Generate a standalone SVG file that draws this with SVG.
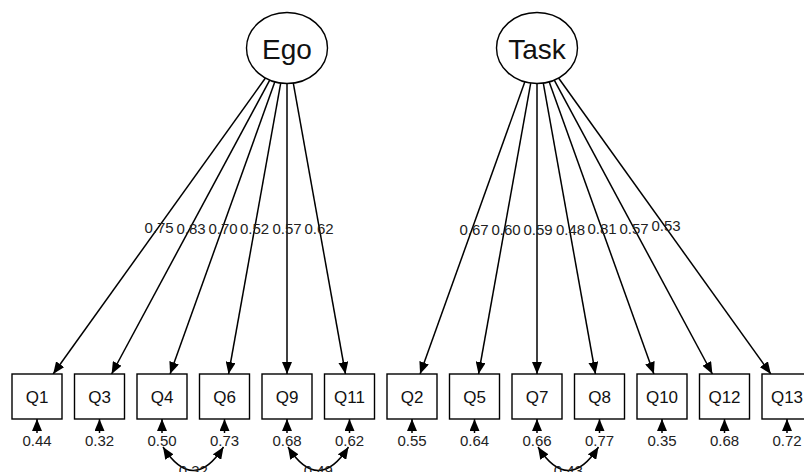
<svg xmlns="http://www.w3.org/2000/svg" width="804" height="472" viewBox="0 0 804 472">
  <style>
    .latent { fill: #fff; stroke: #000; stroke-width: 1.4; }
    .manifest { fill: #fff; stroke: #000; stroke-width: 1.4; }
    .edge { fill: none; stroke: #000; stroke-width: 1.5; marker-end: url(#arrow); }
    .cov { fill: none; stroke: #000; stroke-width: 1.5; marker-start: url(#arrowRev); marker-end: url(#arrow); }
    .lat-text { font-family: "Liberation Sans", Arial, sans-serif; font-size: 28px; fill: #111; text-anchor: middle; }
    .man-text { font-family: "Liberation Sans", Arial, sans-serif; font-size: 17px; fill: #111; text-anchor: middle; }
    .lbl { font-family: "Liberation Sans", Arial, sans-serif; font-size: 15px; fill: #222; text-anchor: middle; }
  </style>
  <defs>
    <marker id="arrow" markerUnits="userSpaceOnUse" markerWidth="12" markerHeight="10" refX="12" refY="5" orient="auto">
      <path d="M0,0 L12,5 L0,10 z" fill="#000"/>
    </marker>
    <marker id="arrowRev" markerUnits="userSpaceOnUse" markerWidth="12" markerHeight="10" refX="12" refY="5" orient="auto-start-reverse">
      <path d="M0,0 L12,5 L0,10 z" fill="#000"/>
    </marker>
  </defs>
  <rect width="804" height="472" fill="#fff"/>

  <g id="connectors">
    <!-- loadings: Ego -->
    <line class="edge" x1="265.44" y1="78.05" x2="53.15" y2="374"/>
    <line class="edge" x1="269.73" y1="80.11" x2="111.61" y2="374"/>
    <line class="edge" x1="274.85" y1="81.87" x2="170.07" y2="374"/>
    <line class="edge" x1="280.71" y1="83.07" x2="228.54" y2="374"/>
    <line class="edge" x1="287" y1="83.5" x2="287" y2="374"/>
    <line class="edge" x1="293.29" y1="83.07" x2="345.46" y2="374"/>
    <!-- loadings: Task -->
    <line class="edge" x1="524.85" y1="81.87" x2="420.07" y2="374"/>
    <line class="edge" x1="530.71" y1="83.07" x2="478.54" y2="374"/>
    <line class="edge" x1="537" y1="83.5" x2="537" y2="374"/>
    <line class="edge" x1="543.29" y1="83.07" x2="595.46" y2="374"/>
    <line class="edge" x1="549.15" y1="81.87" x2="653.93" y2="374"/>
    <line class="edge" x1="554.27" y1="80.11" x2="712.39" y2="374"/>
    <line class="edge" x1="558.56" y1="78.05" x2="770.85" y2="374"/>

    <!-- residual variances -->
    <line class="edge" x1="37" y1="433" x2="37" y2="419"/>
    <line class="edge" x1="99.5" y1="433" x2="99.5" y2="419"/>
    <line class="edge" x1="162" y1="433" x2="162" y2="419"/>
    <line class="edge" x1="224.5" y1="433" x2="224.5" y2="419"/>
    <line class="edge" x1="287" y1="433" x2="287" y2="419"/>
    <line class="edge" x1="349.5" y1="433" x2="349.5" y2="419"/>
    <line class="edge" x1="412" y1="433" x2="412" y2="419"/>
    <line class="edge" x1="474.5" y1="433" x2="474.5" y2="419"/>
    <line class="edge" x1="537" y1="433" x2="537" y2="419"/>
    <line class="edge" x1="599.5" y1="433" x2="599.5" y2="419"/>
    <line class="edge" x1="662" y1="433" x2="662" y2="419"/>
    <line class="edge" x1="724.5" y1="433" x2="724.5" y2="419"/>
    <line class="edge" x1="787" y1="433" x2="787" y2="419"/>

    <!-- residual covariances -->
    <path class="cov" d="M163,447 Q193.25,494 223.5,447"/>
    <path class="cov" d="M288,447 Q318.25,494 348.5,447"/>
    <path class="cov" d="M538,447 Q568.25,494 598.5,447"/>

    <!-- loading labels -->
    <text class="lbl" x="159" y="233">0.75</text>
    <text class="lbl" x="191" y="234">0.83</text>
    <text class="lbl" x="223" y="234">0.70</text>
    <text class="lbl" x="254.5" y="234">0.52</text>
    <text class="lbl" x="287" y="234">0.57</text>
    <text class="lbl" x="319" y="234">0.62</text>
    <text class="lbl" x="474" y="235">0.67</text>
    <text class="lbl" x="506" y="235">0.60</text>
    <text class="lbl" x="538" y="235">0.59</text>
    <text class="lbl" x="570.5" y="235">0.48</text>
    <text class="lbl" x="602" y="234">0.81</text>
    <text class="lbl" x="634" y="234">0.57</text>
    <text class="lbl" x="666" y="231">0.53</text>

    <!-- residual labels -->
    <text class="lbl" x="37" y="446">0.44</text>
    <text class="lbl" x="99.5" y="446">0.32</text>
    <text class="lbl" x="162" y="446">0.50</text>
    <text class="lbl" x="224.5" y="446">0.73</text>
    <text class="lbl" x="287" y="446">0.68</text>
    <text class="lbl" x="349.5" y="446">0.62</text>
    <text class="lbl" x="412" y="446">0.55</text>
    <text class="lbl" x="474.5" y="446">0.64</text>
    <text class="lbl" x="537" y="446">0.66</text>
    <text class="lbl" x="599.5" y="446">0.77</text>
    <text class="lbl" x="662" y="446">0.35</text>
    <text class="lbl" x="724.5" y="446">0.68</text>
    <text class="lbl" x="787" y="446">0.72</text>

    <!-- covariance labels -->
    <text class="lbl" x="193.25" y="476">0.32</text>
    <text class="lbl" x="318.25" y="476">0.49</text>
    <text class="lbl" x="568.25" y="476">0.43</text>
  </g>

  <!-- latent factors -->
  <g id="ego">
    <ellipse class="latent" cx="287" cy="48" rx="40.5" ry="35.5"/>
    <text class="lat-text" x="287" y="58.5">Ego</text>
  </g>
  <g id="task">
    <ellipse class="latent" cx="537" cy="48" rx="40.5" ry="35.5"/>
    <text class="lat-text" x="537" y="58.5">Task</text>
  </g>

  <!-- indicators -->
  <g id="q1"><rect class="manifest" x="12" y="374" width="50" height="45"/><text class="man-text" x="37" y="402.5">Q1</text></g>
  <g id="q3"><rect class="manifest" x="74.5" y="374" width="50" height="45"/><text class="man-text" x="99.5" y="402.5">Q3</text></g>
  <g id="q4"><rect class="manifest" x="137" y="374" width="50" height="45"/><text class="man-text" x="162" y="402.5">Q4</text></g>
  <g id="q6"><rect class="manifest" x="199.5" y="374" width="50" height="45"/><text class="man-text" x="224.5" y="402.5">Q6</text></g>
  <g id="q9"><rect class="manifest" x="262" y="374" width="50" height="45"/><text class="man-text" x="287" y="402.5">Q9</text></g>
  <g id="q11"><rect class="manifest" x="324.5" y="374" width="50" height="45"/><text class="man-text" x="349.5" y="402.5">Q11</text></g>
  <g id="q2"><rect class="manifest" x="387" y="374" width="50" height="45"/><text class="man-text" x="412" y="402.5">Q2</text></g>
  <g id="q5"><rect class="manifest" x="449.5" y="374" width="50" height="45"/><text class="man-text" x="474.5" y="402.5">Q5</text></g>
  <g id="q7"><rect class="manifest" x="512" y="374" width="50" height="45"/><text class="man-text" x="537" y="402.5">Q7</text></g>
  <g id="q8"><rect class="manifest" x="574.5" y="374" width="50" height="45"/><text class="man-text" x="599.5" y="402.5">Q8</text></g>
  <g id="q10"><rect class="manifest" x="637" y="374" width="50" height="45"/><text class="man-text" x="662" y="402.5">Q10</text></g>
  <g id="q12"><rect class="manifest" x="699.5" y="374" width="50" height="45"/><text class="man-text" x="724.5" y="402.5">Q12</text></g>
  <g id="q13"><rect class="manifest" x="762" y="374" width="50" height="45"/><text class="man-text" x="787" y="402.5">Q13</text></g>
</svg>
